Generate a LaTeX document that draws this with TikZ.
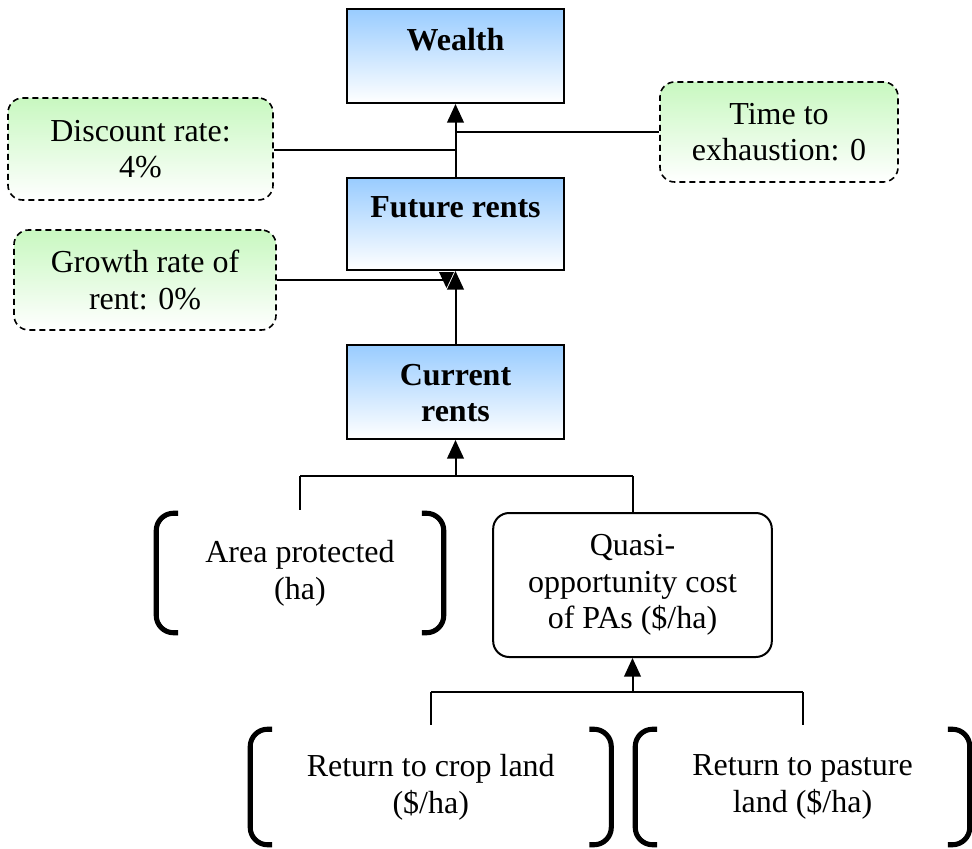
\documentclass[tikz,border=0pt]{standalone}
\usepackage{fontspec}
\setmainfont{Liberation Serif}
\usetikzlibrary{arrows.meta,calc}
\definecolor{boxblue}{HTML}{99CCFF}
\definecolor{boxgreen}{HTML}{C8F8C0}

% text of a blue box, set from the top of the box
\newcommand\toptext[2]{\parbox[c][#1][t]{158pt}{\centering\vspace*{14pt}\textbf{#2}}}

% a pair of round brackets drawn round a node
\newcommand\bracketsof[1]{%
  \draw[brk] ($(#1.north west)+(22,0)$) -- (#1.north west) -- (#1.south west) -- ($(#1.south west)+(22,0)$);
  \draw[brk] ($(#1.north east)+(-22,0)$) -- (#1.north east) -- (#1.south east) -- ($(#1.south east)+(-22,0)$);}

\begin{document}
\begin{tikzpicture}[x=0.75pt,y=-0.75pt,
  font=\fontsize{24}{27.5}\selectfont,
  bluebox/.style={draw=black, line width=1.5pt, top color=boxblue, bottom color=white,
    minimum width=162.75pt, inner sep=0pt},
  greenbox/.style={draw=black, line width=1.2pt, dash pattern=on 4.5pt off 3pt,
    rounded corners=11pt, top color=boxgreen, bottom color=white,
    align=center, inner sep=0pt},
  roundbox/.style={draw=black, line width=1.5pt, rounded corners=12pt,
    align=center, inner sep=0pt, minimum width=209pt, minimum height=108pt},
  bracketed/.style={align=center, inner sep=0pt},
  brk/.style={line width=3.8pt, rounded corners=13pt, line cap=butt},
  conn/.style={line width=1.5pt},
  arr/.style={conn, -{Triangle[length=14pt,width=12.5pt]}},
]
\useasboundingbox (0,0) rectangle (972,849);

% main chain
\node[bluebox, minimum height=70.5pt] (wealth) at (455.5,56) {\toptext{70pt}{Wealth}};
\node[bluebox, minimum height=69pt] (future) at (455.5,224) {\toptext{68.5pt}{Future rents}};
\node[bluebox, minimum height=70.5pt] (current) at (455.5,392) {\toptext{70pt}{Current\\rents}};

% parameters
\node[greenbox, minimum width=198.75pt, minimum height=76.5pt] (discount) at (140.5,149) {Discount rate:\\4\%};
\node[greenbox, minimum width=196.5pt, minimum height=75pt] (growth) at (145,280) {Growth rate of\\rent: 0\%};
\node[greenbox, minimum width=178.5pt, minimum height=75pt] (time) at (779,132) {Time to\\exhaustion: 0};

% inputs of current rents
\node[bracketed, minimum width=215.25pt, minimum height=89.25pt] (area) at (300,573) {Area protected\\(ha)};
\node[roundbox] (quasi) at (632.5,585) {Quasi-\\opportunity cost\\of PAs (\$/ha)};
\node[bracketed, minimum width=270.4pt, minimum height=86.25pt] (crop) at (430.75,787) {Return to crop land\\(\$/ha)};
\node[bracketed, minimum width=250.5pt, minimum height=86.25pt] (pasture) at (802.5,787) {Return to pasture\\land (\$/ha)};
\bracketsof{area}
\bracketsof{crop}
\bracketsof{pasture}

% connectors of the upper chain
\coordinate (dj) at (455.5,150);
\coordinate (tj) at (455.5,132);
\coordinate (gend) at (446,280);
\draw[arr] (future.north) -- (wealth.south);
\draw[conn] (discount.east |- dj) -- (dj);
\draw[conn] (time.west |- tj) -- (tj);
\draw[arr] (current.north) -- (future.south);
\draw[conn] (growth.east) -- (gend);
\fill (439,272) -- (454,272) -- (446.5,288) -- cycle;

% branch into current rents
\coordinate (cj) at (455.5,476);
\draw[arr] (cj) -- (current.south);
\draw[conn] (area.north |- cj) -- (quasi.north |- cj);
\draw[conn] (area.north |- cj) -- ($(area.north)+(0,-3)$);
\draw[conn] (quasi.north |- cj) -- (quasi.north);

% branch into the opportunity cost
\coordinate (qj) at (632.5,692);
\draw[arr] (qj) -- (quasi.south);
\draw[conn] (crop.north |- qj) -- (pasture.north |- qj);
\draw[conn] (crop.north |- qj) -- ($(crop.north)+(0,-4)$);
\draw[conn] (pasture.north |- qj) -- ($(pasture.north)+(0,-4)$);
\end{tikzpicture}
\end{document}
